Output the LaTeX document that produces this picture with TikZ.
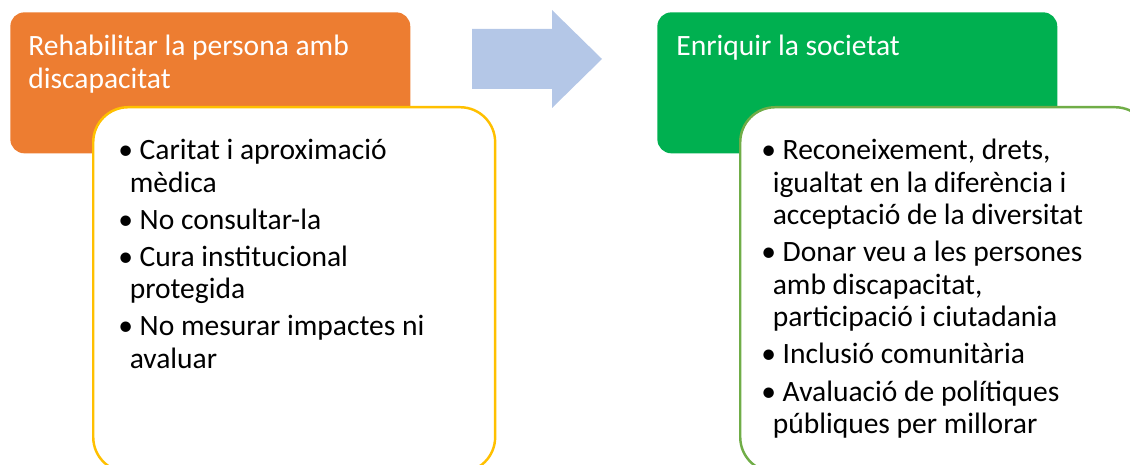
\documentclass[tikz,border=0pt]{standalone}
\usepackage{fontspec}
\setmainfont{Carlito}
\definecolor{orangebox}{HTML}{ED7D31}
\definecolor{yellowline}{HTML}{FFC000}
\definecolor{greenbox}{HTML}{00B050}
\definecolor{greenline}{HTML}{70AD47}
\definecolor{arrowblue}{HTML}{B4C7E7}
\tikzset{
  headbox/.style={rectangle, rounded corners=0.28cm, inner sep=0, anchor=north west, minimum width=8cm, minimum height=2.82cm},
  listbox/.style={rectangle, rounded corners=0.7cm, fill=white, line width=1.4pt, inner sep=0, anchor=north west, minimum width=8.04cm, minimum height=7.3cm},
  headtext/.style={text=white, align=left, inner sep=0, anchor=north west, font=\fontsize{16.8}{18.5}\selectfont},
  listtext/.style={text=black, align=left, inner sep=0, anchor=north west, font=\fontsize{16.8}{18.5}\selectfont}
}
\newcommand{\cont}{\hspace*{6.5pt}}
\begin{document}
\begin{tikzpicture}[x=0.02cm, y=-0.02cm]
    \useasboundingbox (0,0) rectangle (1130,465);
    \clip (0,0) rectangle (1130,465);

    % left side
    \node [headbox, fill=orangebox] (rehab) at (10,12) {};
    \node [headtext] (rehabtext) at (28,35) {Rehabilitar la persona amb\\discapacitat};
    \node [listbox, draw=yellowline] (rehablist) at (92,106) {};
    \node [listtext] (rehabitems) at (118,139) {%
        • Caritat i aproximació\\
        \cont mèdica\\[2.6pt]
        • No consultar-la\\[2.6pt]
        • Cura institucional\\
        \cont protegida\\[2.6pt]
        • No mesurar impactes ni\\
        \cont avaluar};

    % block arrow
    \fill [arrowblue] (472,29) -- (552,29) -- (552,10) -- (602,59) -- (552,108) -- (552,89) -- (472,89) -- cycle;

    % right side
    \node [headbox, fill=greenbox] (enriq) at (657,12) {};
    \node [headtext] (enriqtext) at (676,35) {Enriquir la societat};
    \node [listbox, draw=greenline, minimum width=8.2cm] (enriqlist) at (739,106) {};
    \node [listtext] (enriqitems) at (761,139) {%
        • Reconeixement, drets,\\
        \cont igualtat en la diferència i\\
        \cont acceptació de la diversitat\\[2.6pt]
        • Donar veu a les persones\\
        \cont amb discapacitat,\\
        \cont participació i ciutadania\\[2.6pt]
        • Inclusió comunitària\\[2.6pt]
        • Avaluació de polítiques\\
        \cont públiques per millorar};
\end{tikzpicture}
\end{document}
